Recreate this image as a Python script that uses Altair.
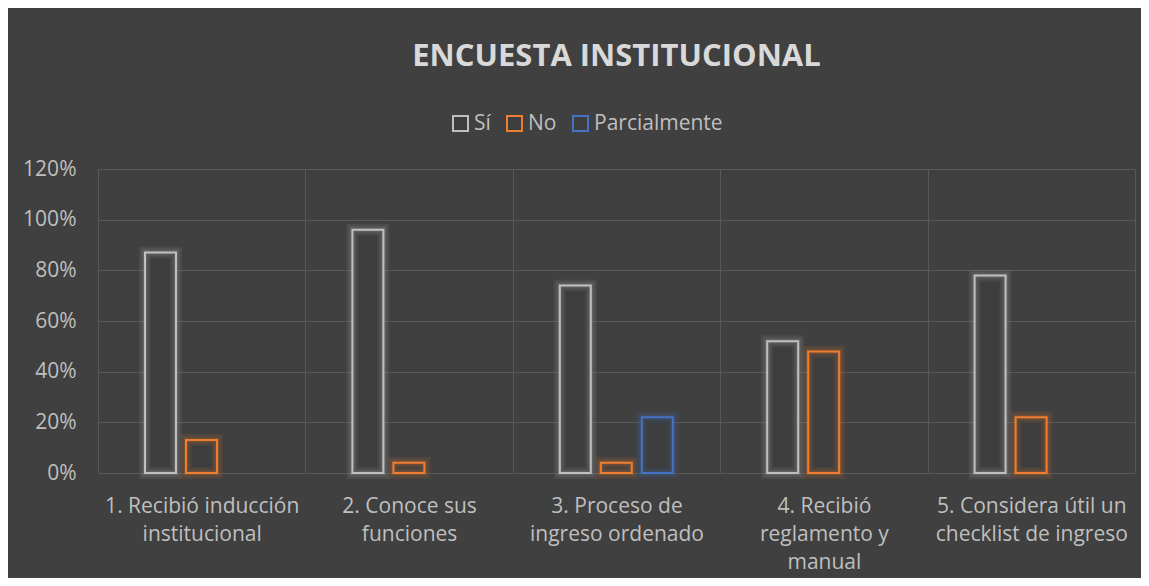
import altair as alt
import pandas as pd

categories = [
    "1. Recibió inducción institucional",
    "2. Conoce sus funciones",
    "3. Proceso de ingreso ordenado",
    "4. Recibió reglamento y manual",
    "5. Considera útil un checklist de ingreso",
]
category_lines = [
    ["1. Recibió inducción", "institucional"],
    ["2. Conoce sus", "funciones"],
    ["3. Proceso de", "ingreso ordenado"],
    ["4. Recibió", "reglamento y", "manual"],
    ["5. Considera útil un", "checklist de ingreso"],
]
series = ["Sí", "No", "Parcialmente"]
colors = ["#bfbfbf", "#ed7d31", "#4472c4"]
si_values = [0.87, 0.96, 0.74, 0.52, 0.78]
no_values = [0.13, 0.04, 0.04, 0.48, 0.22]
parcial_values = [0.0, 0.0, 0.22, 0.0, 0.0]
y_ticks = [0, 0.2, 0.4, 0.6, 0.8, 1.0, 1.2]

rows = []
for i, c in enumerate(categories):
    for s, vals in zip(series, [si_values, no_values, parcial_values]):
        if vals[i] > 0:
            rows.append({"pregunta": c, "serie": s, "valor": vals[i]})
df = pd.DataFrame(rows)

label_map = "{" + ",".join(
    '"%s":[%s]' % (c, ",".join('"%s"' % l for l in lines))
    for c, lines in zip(categories, category_lines)
) + "}"

FONT = "Open Sans"
TXT = "#bfbfbf"

x_enc = alt.X(
    "pregunta:N",
    sort=categories,
    scale=alt.Scale(domain=categories, paddingInner=0, paddingOuter=0),
    axis=alt.Axis(
        title=None, labelAngle=0, ticks=False, domain=False,
        tickBand="extent", grid=True, gridColor="#585858", gridWidth=1,
        labelExpr=label_map + "[datum.label]",
        labelFont=FONT, labelFontSize=21, labelColor=TXT, labelLimit=0,
        labelLineHeight=28, labelPadding=22, labelBaseline="top",
    ),
)
xoff = alt.XOffset(
    "serie:N", sort=series,
    scale=alt.Scale(domain=series, range=[47, 160], paddingInner=0.244, paddingOuter=0),
)
y_enc = alt.Y(
    "valor:Q",
    scale=alt.Scale(domain=[0, 1.2], nice=False),
    axis=alt.Axis(
        title=None, values=y_ticks, format=".0%", ticks=False, domain=False,
        grid=True, gridColor="#585858", gridWidth=1,
        labelFont=FONT, labelFontSize=21, labelColor=TXT, labelPadding=22,
    ),
)
color_scale = alt.Scale(domain=series, range=colors)

legend = alt.Legend(
    title=None, orient="none", direction="horizontal",
    legendX=352, legendY=-56,
    symbolType="square", symbolSize=225, symbolStrokeWidth=2,
    symbolFillColor="transparent", symbolOpacity=1,
    labelFont=FONT, labelFontSize=21, labelColor=TXT, labelLimit=0,
    labelOffset=3, columnPadding=12,
)

glow_outer = alt.Chart(df).mark_bar(
    fill="#3d3d3d", fillOpacity=1, strokeWidth=12, strokeOpacity=0.08,
).encode(
    x=x_enc, xOffset=xoff, y=y_enc,
    stroke=alt.Stroke("serie:N", scale=color_scale, sort=series, legend=legend),
)
glow_mid = alt.Chart(df).mark_bar(
    fillOpacity=0, strokeWidth=8, strokeOpacity=0.1,
).encode(
    x=x_enc, xOffset=xoff, y=y_enc,
    stroke=alt.Stroke("serie:N", scale=color_scale, sort=series, legend=legend),
)
glow_inner = alt.Chart(df).mark_bar(
    fillOpacity=0, strokeWidth=4, strokeOpacity=0.15,
).encode(
    x=x_enc, xOffset=xoff, y=y_enc,
    stroke=alt.Stroke("serie:N", scale=color_scale, sort=series, legend=legend),
)

bars = alt.Chart(df).mark_bar(
    fillOpacity=0, strokeWidth=2,
).encode(
    x=x_enc, xOffset=xoff, y=y_enc,
    stroke=alt.Stroke("serie:N", scale=color_scale, sort=series, legend=legend),
)

chart = alt.layer(glow_outer, glow_mid, glow_inner, bars).properties(
    width=1037, height=304,
    autosize=alt.AutoSizeParams(type="none"),
    padding={"left": 90, "right": 6, "top": 161, "bottom": 105},
    background="#404040",
    title=alt.TitleParams(
        "ENCUESTA INSTITUCIONAL", font=FONT, fontSize=31, fontWeight="bold",
        color="#d9d9d9", anchor="middle", offset=40,
    ),
).configure_view(stroke=None)

chart.save("out.html", embed_options={"renderer": "svg", "actions": False})
